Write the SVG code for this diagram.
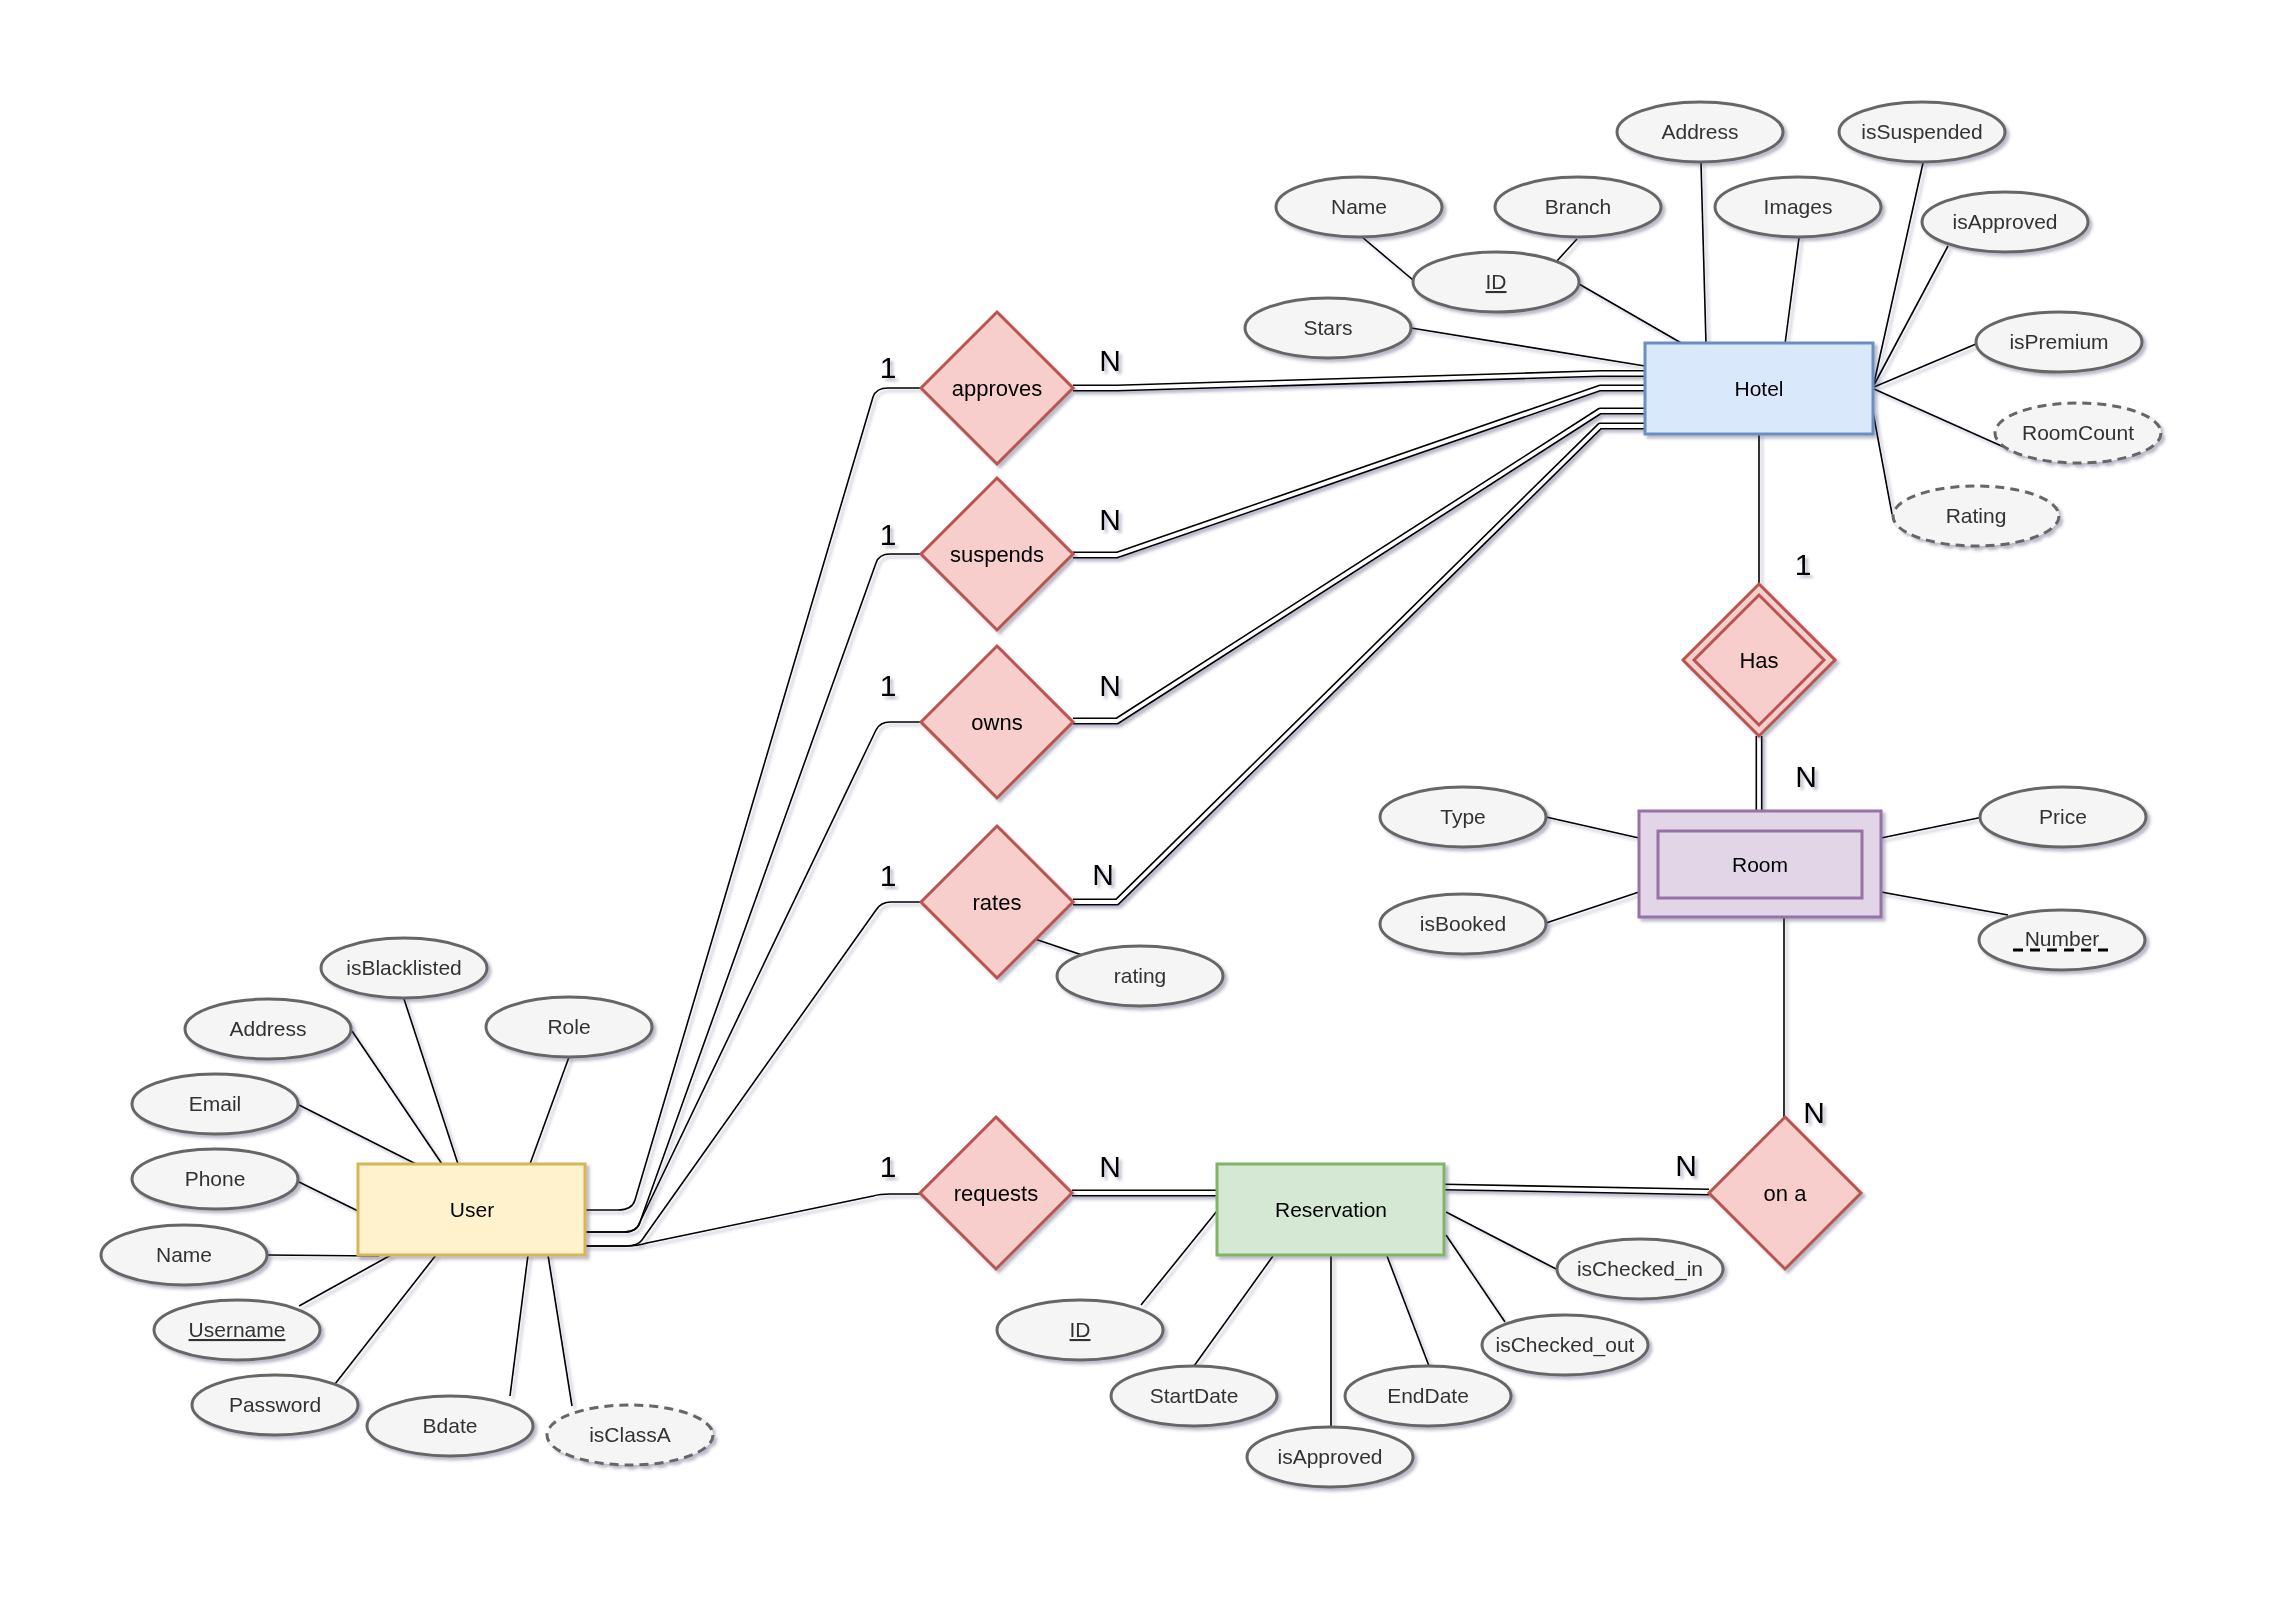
<svg xmlns="http://www.w3.org/2000/svg" width="2270" height="1604" viewBox="0 0 2270 1604">
<defs>
<filter id="sh" x="-20%" y="-20%" width="140%" height="140%">
<feDropShadow dx="3" dy="3" stdDeviation="1.6" flood-color="#3c3c66" flood-opacity="0.35"/>
</filter>
</defs>
<style>
text{font-family:"Liberation Sans",Arial,sans-serif;text-anchor:middle}
.attr{fill:#f5f5f5;stroke:#666666;stroke-width:3}
.dash{stroke-dasharray:9 6}
.at{font-size:21px;fill:#333333}
.et{font-size:21px;fill:#000000}
.rt{font-size:22px;fill:#000000}
.rel{fill:#f8cecc;stroke:#b85450;stroke-width:3}
.card{font-size:30px;fill:#000000}
.ln{fill:none;stroke:#000000;stroke-width:1.6}
.dbo{fill:none;stroke:#000000;stroke-width:7;stroke-linejoin:round}
.dbi{fill:none;stroke:#ffffff;stroke-width:3.8;stroke-linejoin:round}
</style>
<rect width="2270" height="1604" fill="#ffffff"/>

<g id="connectors" filter="url(#sh)">
<!-- Hotel attributes -->
<line class="ln" x1="1362" y1="237" x2="1413" y2="280"/>
<line class="ln" x1="1577" y1="239" x2="1556" y2="262"/>
<line class="ln" x1="1579" y1="284" x2="1683" y2="344"/>
<line class="ln" x1="1701" y1="163" x2="1706" y2="344"/>
<line class="ln" x1="1799" y1="238" x2="1785" y2="344"/>
<line class="ln" x1="1411" y1="328" x2="1645" y2="366"/>
<line class="ln" x1="1923" y1="163" x2="1874" y2="383"/>
<line class="ln" x1="1948" y1="246" x2="1874" y2="385"/>
<line class="ln" x1="1976" y1="344" x2="1874" y2="387"/>
<line class="ln" x1="2006" y1="448" x2="1874" y2="389"/>
<line class="ln" x1="1873" y1="412" x2="1892" y2="514"/>
<!-- Hotel - Has - Room -->
<line class="ln" x1="1759" y1="434" x2="1759" y2="584"/>
<path class="dbo" d="M1759,736 V811"/><path class="dbi" d="M1759,736 V811"/>
<!-- Room attributes -->
<line class="ln" x1="1546" y1="817" x2="1639" y2="838"/>
<line class="ln" x1="1546" y1="923" x2="1639" y2="892"/>
<line class="ln" x1="1983" y1="817" x2="1881" y2="838"/>
<line class="ln" x1="2008" y1="915" x2="1881" y2="892"/>
<!-- Room - on a -->
<line class="ln" x1="1784" y1="917" x2="1784" y2="1117"/>
<!-- Reservation - on a -->
<path class="dbo" d="M1444,1187 L1709,1192"/><path class="dbi" d="M1444,1187 L1709,1192"/>
<!-- requests - Reservation -->
<path class="dbo" d="M1072,1193 H1217"/><path class="dbi" d="M1072,1193 H1217"/>
<!-- Reservation attributes -->
<line class="ln" x1="1141" y1="1305" x2="1217" y2="1211"/>
<line class="ln" x1="1194" y1="1366" x2="1273" y2="1256"/>
<line class="ln" x1="1331" y1="1427" x2="1331" y2="1256"/>
<line class="ln" x1="1429" y1="1366" x2="1387" y2="1256"/>
<line class="ln" x1="1505" y1="1322" x2="1446" y2="1235"/>
<line class="ln" x1="1558" y1="1270" x2="1446" y2="1212"/>
<!-- rates - rating -->
<line class="ln" x1="1035" y1="939" x2="1085" y2="956"/>
<!-- relationships to Hotel (double) -->
<path class="dbo" d="M1073,388 H1117 L1600,373.5 H1645"/><path class="dbi" d="M1073,388 H1117 L1600,373.5 H1645"/>
<path class="dbo" d="M1073,555 H1117 L1600,388 H1645"/><path class="dbi" d="M1073,555 H1117 L1600,388 H1645"/>
<path class="dbo" d="M1073,721 H1117 L1600,411 H1645"/><path class="dbi" d="M1073,721 H1117 L1600,411 H1645"/>
<path class="dbo" d="M1073,902 H1117 L1600,426 H1645"/><path class="dbi" d="M1073,902 H1117 L1600,426 H1645"/>
<!-- User to relationships -->
<path class="ln" d="M585,1210 H618 Q632,1210 635,1200 L873,397 Q876,388 888,388 H922"/>
<path class="ln" d="M585,1232 H624 Q637,1232 640,1222 L876,563 Q879,554 890,554 H922"/>
<path class="ln" d="M585,1232 H624 Q637,1232 640,1222 L876,730 Q880,722 890,722 H922"/>
<path class="ln" d="M585,1246 H626 Q638,1246 642,1240 L876,910 Q881,902 891,902 H922"/>
<path class="ln" d="M585,1246 H626 Q638,1246 647,1243 L873,1196 Q880,1194 890,1194 H922"/>
<!-- User attributes -->
<line class="ln" x1="404" y1="999" x2="458" y2="1164"/>
<line class="ln" x1="352" y1="1031" x2="442" y2="1164"/>
<line class="ln" x1="569" y1="1057" x2="530" y2="1164"/>
<line class="ln" x1="299" y1="1105" x2="416" y2="1164"/>
<line class="ln" x1="299" y1="1182" x2="358" y2="1211"/>
<line class="ln" x1="267" y1="1255" x2="379" y2="1256"/>
<line class="ln" x1="299" y1="1306" x2="391" y2="1255"/>
<line class="ln" x1="335" y1="1384" x2="436" y2="1255"/>
<line class="ln" x1="510" y1="1396" x2="528" y2="1255"/>
<line class="ln" x1="572" y1="1406" x2="548" y2="1255"/>
</g>

<g id="hotel" filter="url(#sh)">
<rect x="1645" y="343" width="228" height="91" fill="#dae8fc" stroke="#6c8ebf" stroke-width="3"/>
<text class="et" x="1759" y="396">Hotel</text>
</g>
<g id="hotel-name" filter="url(#sh)"><ellipse class="attr" cx="1359" cy="207" rx="83" ry="30"/><text class="at" x="1359" y="214">Name</text></g>
<g id="hotel-branch" filter="url(#sh)"><ellipse class="attr" cx="1578" cy="207" rx="83" ry="30"/><text class="at" x="1578" y="214">Branch</text></g>
<g id="hotel-address" filter="url(#sh)"><ellipse class="attr" cx="1700" cy="132" rx="83" ry="30"/><text class="at" x="1700" y="139">Address</text></g>
<g id="hotel-issuspended" filter="url(#sh)"><ellipse class="attr" cx="1922" cy="132" rx="83" ry="30"/><text class="at" x="1922" y="139">isSuspended</text></g>
<g id="hotel-images" filter="url(#sh)"><ellipse class="attr" cx="1798" cy="207" rx="83" ry="30"/><text class="at" x="1798" y="214">Images</text></g>
<g id="hotel-isapproved" filter="url(#sh)"><ellipse class="attr" cx="2005" cy="222" rx="83" ry="30"/><text class="at" x="2005" y="229">isApproved</text></g>
<g id="hotel-id" filter="url(#sh)"><ellipse class="attr" cx="1496" cy="282" rx="83" ry="30"/><text class="at" x="1496" y="289" text-decoration="underline">ID</text></g>
<g id="hotel-stars" filter="url(#sh)"><ellipse class="attr" cx="1328" cy="328" rx="83" ry="30"/><text class="at" x="1328" y="335">Stars</text></g>
<g id="hotel-ispremium" filter="url(#sh)"><ellipse class="attr" cx="2059" cy="342" rx="83" ry="30"/><text class="at" x="2059" y="349">isPremium</text></g>
<g id="hotel-roomcount" filter="url(#sh)"><ellipse class="attr dash" cx="2078" cy="433" rx="83" ry="30"/><text class="at" x="2078" y="440">RoomCount</text></g>
<g id="hotel-rating" filter="url(#sh)"><ellipse class="attr dash" cx="1976" cy="516" rx="83" ry="30"/><text class="at" x="1976" y="523">Rating</text></g>

<g id="has" filter="url(#sh)">
<polygon class="rel" points="1759,584 1835,660 1759,736 1683,660"/>
<polygon fill="none" stroke="#b85450" stroke-width="3" points="1759,595 1824,660 1759,725 1694,660"/>
<text class="rt" x="1759" y="668">Has</text>
</g>

<g id="room" filter="url(#sh)">
<rect x="1639" y="811" width="242" height="106" fill="#e1d5e7" stroke="#9673a6" stroke-width="3"/>
<rect x="1658" y="831" width="204" height="67" fill="none" stroke="#9673a6" stroke-width="3"/>
<text class="et" x="1760" y="872">Room</text>
</g>
<g id="room-type" filter="url(#sh)"><ellipse class="attr" cx="1463" cy="817" rx="83" ry="30"/><text class="at" x="1463" y="824">Type</text></g>
<g id="room-isbooked" filter="url(#sh)"><ellipse class="attr" cx="1463" cy="924" rx="83" ry="30"/><text class="at" x="1463" y="931">isBooked</text></g>
<g id="room-price" filter="url(#sh)"><ellipse class="attr" cx="2063" cy="817" rx="83" ry="30"/><text class="at" x="2063" y="824">Price</text></g>
<g id="room-number" filter="url(#sh)"><ellipse class="attr" cx="2062" cy="940" rx="83" ry="30"/><text class="at" x="2062" y="946">Number</text>
<line x1="2013" y1="950" x2="2113" y2="950" stroke="#000000" stroke-width="3" stroke-dasharray="10 7"/></g>

<g id="on-a" filter="url(#sh)">
<polygon class="rel" points="1785,1117 1861,1193 1785,1269 1709,1193"/>
<text class="rt" x="1785" y="1201">on a</text>
</g>

<g id="reservation" filter="url(#sh)">
<rect x="1217" y="1164" width="227" height="91" fill="#d5e8d4" stroke="#82b366" stroke-width="3"/>
<text class="et" x="1331" y="1217">Reservation</text>
</g>
<g id="res-id" filter="url(#sh)"><ellipse class="attr" cx="1080" cy="1330" rx="83" ry="30"/><text class="at" x="1080" y="1337" text-decoration="underline">ID</text></g>
<g id="res-startdate" filter="url(#sh)"><ellipse class="attr" cx="1194" cy="1396" rx="83" ry="30"/><text class="at" x="1194" y="1403">StartDate</text></g>
<g id="res-isapproved" filter="url(#sh)"><ellipse class="attr" cx="1330" cy="1457" rx="83" ry="30"/><text class="at" x="1330" y="1464">isApproved</text></g>
<g id="res-enddate" filter="url(#sh)"><ellipse class="attr" cx="1428" cy="1396" rx="83" ry="30"/><text class="at" x="1428" y="1403">EndDate</text></g>
<g id="res-ischeckedout" filter="url(#sh)"><ellipse class="attr" cx="1565" cy="1345" rx="83" ry="30"/><text class="at" x="1565" y="1352">isChecked_out</text></g>
<g id="res-ischeckedin" filter="url(#sh)"><ellipse class="attr" cx="1640" cy="1269" rx="83" ry="30"/><text class="at" x="1640" y="1276">isChecked_in</text></g>

<g id="approves" filter="url(#sh)"><polygon class="rel" points="997,312 1073,388 997,464 921,388"/><text class="rt" x="997" y="396">approves</text></g>
<g id="suspends" filter="url(#sh)"><polygon class="rel" points="997,478 1073,554 997,630 921,554"/><text class="rt" x="997" y="562">suspends</text></g>
<g id="owns" filter="url(#sh)"><polygon class="rel" points="997,646 1073,722 997,798 921,722"/><text class="rt" x="997" y="730">owns</text></g>
<g id="rates" filter="url(#sh)"><polygon class="rel" points="997,826 1073,902 997,978 921,902"/><text class="rt" x="997" y="910">rates</text></g>
<g id="rates-rating" filter="url(#sh)"><ellipse class="attr" cx="1140" cy="976" rx="83" ry="30"/><text class="at" x="1140" y="983">rating</text></g>
<g id="requests" filter="url(#sh)"><polygon class="rel" points="996,1117 1072,1193 996,1269 920,1193"/><text class="rt" x="996" y="1201">requests</text></g>

<g id="user" filter="url(#sh)">
<rect x="358" y="1164" width="227" height="91" fill="#fff2cc" stroke="#d6b656" stroke-width="3"/>
<text class="et" x="472" y="1217">User</text>
</g>
<g id="user-isblacklisted" filter="url(#sh)"><ellipse class="attr" cx="404" cy="968" rx="83" ry="30"/><text class="at" x="404" y="975">isBlacklisted</text></g>
<g id="user-address" filter="url(#sh)"><ellipse class="attr" cx="268" cy="1029" rx="83" ry="30"/><text class="at" x="268" y="1036">Address</text></g>
<g id="user-role" filter="url(#sh)"><ellipse class="attr" cx="569" cy="1027" rx="83" ry="30"/><text class="at" x="569" y="1034">Role</text></g>
<g id="user-email" filter="url(#sh)"><ellipse class="attr" cx="215" cy="1104" rx="83" ry="30"/><text class="at" x="215" y="1111">Email</text></g>
<g id="user-phone" filter="url(#sh)"><ellipse class="attr" cx="215" cy="1179" rx="83" ry="30"/><text class="at" x="215" y="1186">Phone</text></g>
<g id="user-name" filter="url(#sh)"><ellipse class="attr" cx="184" cy="1255" rx="83" ry="30"/><text class="at" x="184" y="1262">Name</text></g>
<g id="user-username" filter="url(#sh)"><ellipse class="attr" cx="237" cy="1330" rx="83" ry="30"/><text class="at" x="237" y="1337" text-decoration="underline">Username</text></g>
<g id="user-password" filter="url(#sh)"><ellipse class="attr" cx="275" cy="1405" rx="83" ry="30"/><text class="at" x="275" y="1412">Password</text></g>
<g id="user-bdate" filter="url(#sh)"><ellipse class="attr" cx="450" cy="1426" rx="83" ry="30"/><text class="at" x="450" y="1433">Bdate</text></g>
<g id="user-isclassa" filter="url(#sh)"><ellipse class="attr dash" cx="630" cy="1435" rx="83" ry="30"/><text class="at" x="630" y="1442">isClassA</text></g>

<g id="cardinalities" filter="url(#sh)">
<text class="card" x="888" y="378">1</text><text class="card" x="1110" y="371">N</text>
<text class="card" x="888" y="545">1</text><text class="card" x="1110" y="530">N</text>
<text class="card" x="888" y="696">1</text><text class="card" x="1110" y="696">N</text>
<text class="card" x="888" y="886">1</text><text class="card" x="1103" y="885">N</text>
<text class="card" x="888" y="1177">1</text><text class="card" x="1110" y="1177">N</text>
<text class="card" x="1803" y="575">1</text>
<text class="card" x="1806" y="787">N</text>
<text class="card" x="1814" y="1123">N</text>
<text class="card" x="1686" y="1176">N</text>
</g>
</svg>
